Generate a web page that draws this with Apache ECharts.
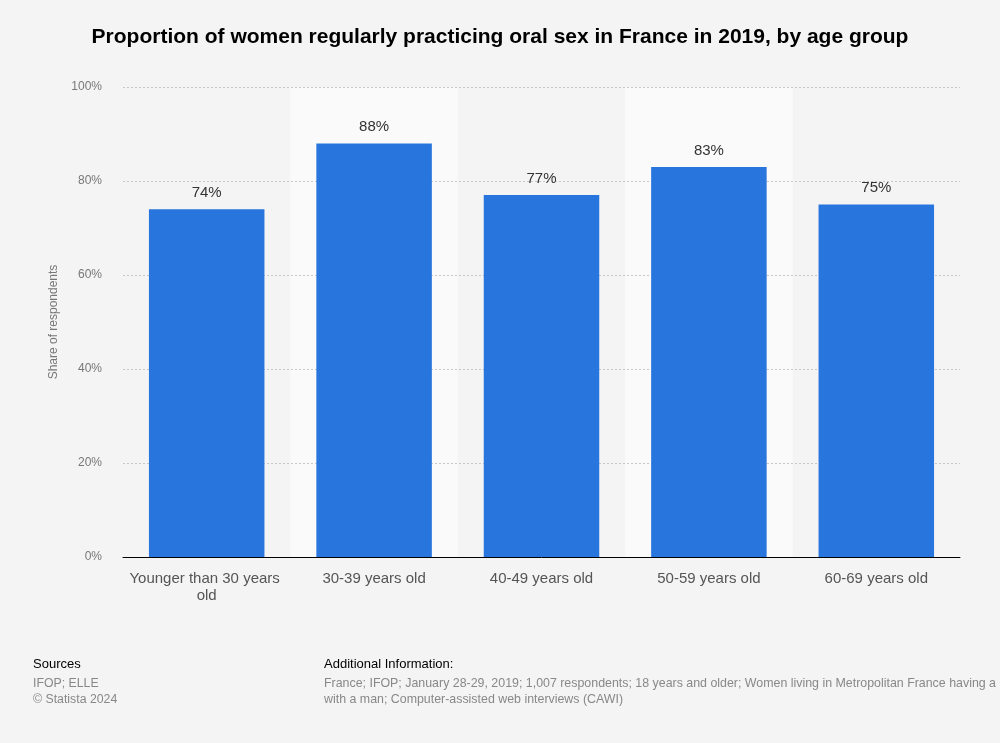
<!DOCTYPE html>
<html>
<head>
<meta charset="utf-8">
<script src="https://cdn.jsdelivr.net/npm/echarts@6/dist/echarts.min.js"></script>
<style>
html,body{margin:0;padding:0;background:#f4f4f4;overflow:hidden;}
#chart{width:1000px;height:743px;}
</style>
</head>
<body>
<div id="chart"></div>
<script>
const categories = ["Younger than 30 years old", "30-39 years old", "40-49 years old", "50-59 years old", "60-69 years old"];
const values = [74, 88, 77, 83, 75];
const yTicks = [0, 20, 40, 60, 80, 100];
const titleText = "Proportion of women regularly practicing oral sex in France in 2019, by age group";
const yAxisName = "Share of respondents";
const sourcesLines = ["IFOP; ELLE", "© Statista 2024"];
const infoLines = ["France; IFOP; January 28-29, 2019; 1,007 respondents; 18 years and older; Women living in Metropolitan France having a", "with a man; Computer-assisted web interviews (CAWI)"];

const font = "'Liberation Sans', Arial, Helvetica, sans-serif";
const chart = echarts.init(document.getElementById('chart'));
chart.setOption({
  backgroundColor: '#f4f4f4',
  textStyle: { fontFamily: font },
  title: {
    text: titleText, left: 'center', top: 22,
    textStyle: { fontFamily: font, fontSize: 21, fontWeight: 'bold', color: '#000' }
  },
  grid: { left: 123, right: 40, top: 87, bottom: 186 },
  xAxis: [{
    type: 'category', data: categories, z: 0,
    axisLine: { show: false },
    axisTick: { show: false },
    axisLabel: { color: '#555', fontSize: 15, width: 162, overflow: 'break', margin: 13, lineHeight: 17, interval: 0 },
    splitArea: { show: true, areaStyle: { color: ['rgba(0,0,0,0)', '#fafafa'] } }
  }, {
    type: 'category', data: categories, position: 'bottom', z: 5,
    axisLine: { show: true, onZero: false, lineStyle: { color: '#000', width: 1 } },
    axisTick: { show: false }, axisLabel: { show: false },
    splitLine: { show: false }, splitArea: { show: false }
  }],
  yAxis: {
    type: 'value', min: yTicks[0], max: yTicks[yTicks.length - 1], interval: 20, z: 1,
    name: yAxisName, nameLocation: 'middle', nameGap: 63, nameRotate: 90,
    nameTextStyle: { color: '#777', fontSize: 12, fontFamily: font },
    axisLine: { show: false }, axisTick: { show: false },
    axisLabel: { color: '#777', fontSize: 12, margin: 21, formatter: v => v + '%' },
    splitLine: { lineStyle: { color: '#c8c8c8', type: [2, 2], width: 1 } }
  },
  series: [{
    type: 'bar', data: values, barCategoryGap: '31%', z: 3, xAxisIndex: 0,
    itemStyle: { color: '#2876dd' },
    label: { show: true, position: 'top', distance: 9, color: '#333', fontSize: 15, formatter: p => p.value + '%' }
  }],
  graphic: [
    { type: 'text', left: 33, top: 658, style: { text: 'Sources', fill: '#000', fontSize: 13, fontFamily: font } },
    { type: 'text', left: 33, top: 676, style: { text: sourcesLines.join('\n'), fill: '#888', fontSize: 12.3, lineHeight: 16, fontFamily: font } },
    { type: 'text', left: 324, top: 658, style: { text: 'Additional Information:', fill: '#000', fontSize: 13, fontFamily: font } },
    { type: 'text', left: 324, top: 676, style: { text: infoLines.join('\n'), fill: '#888', fontSize: 12.4, lineHeight: 16, fontFamily: font } }
  ]
});
</script>
</body>
</html>
